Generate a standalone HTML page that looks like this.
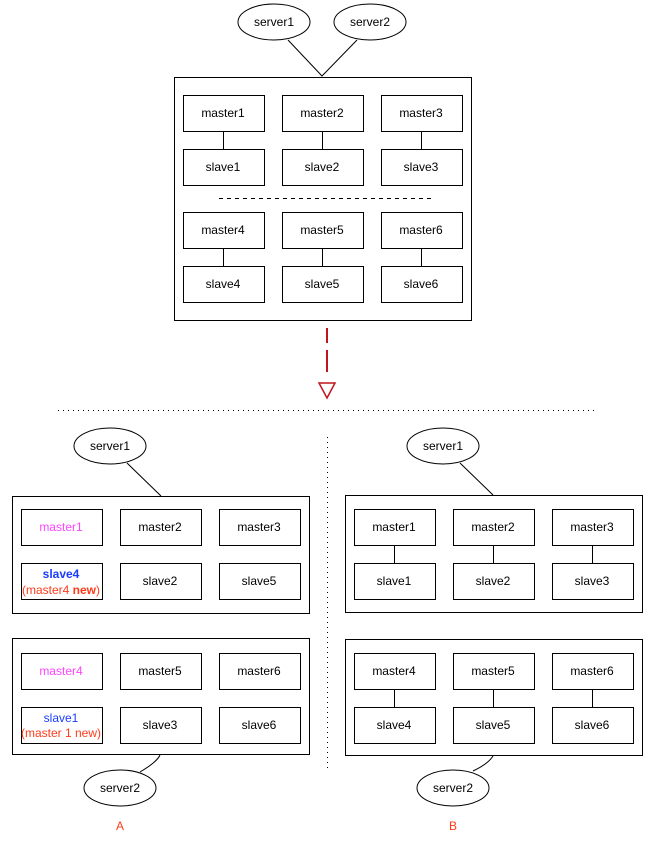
<!DOCTYPE html>
<html><head><style>html,body{margin:0;padding:0;background:#fff}svg{display:block}text{font-family:"Liberation Sans",sans-serif;font-size:12px}</style></head>
<body>
<svg width="665" height="846" viewBox="0 0 665 846" xmlns="http://www.w3.org/2000/svg">
<g fill="#fff" stroke="#000" stroke-width="1">
<ellipse cx="274" cy="22" rx="36" ry="18"/>
<ellipse cx="370" cy="22" rx="36" ry="18"/>
<path d="M288 40 L322 76 L357 40" fill="none"/>
<rect x="174.5" y="77.5" width="297" height="243"/>
<rect x="183.5" y="95.5" width="81" height="36"/><rect x="282.5" y="95.5" width="81" height="36"/><rect x="381.5" y="95.5" width="81" height="36"/>
<rect x="183.5" y="149.5" width="81" height="36"/><rect x="282.5" y="149.5" width="81" height="36"/><rect x="381.5" y="149.5" width="81" height="36"/>
<rect x="183.5" y="212.5" width="81" height="36"/><rect x="282.5" y="212.5" width="81" height="36"/><rect x="381.5" y="212.5" width="81" height="36"/>
<rect x="183.5" y="266.5" width="81" height="36"/><rect x="282.5" y="266.5" width="81" height="36"/><rect x="381.5" y="266.5" width="81" height="36"/>
<path d="M223.5 131.5V149.5M322.5 131.5V149.5M421.5 131.5V149.5M223.5 248.5V266.5M322.5 248.5V266.5M421.5 248.5V266.5" fill="none"/>
<path d="M219 198.5H431" fill="none" stroke-dasharray="4 4"/>
<path d="M327 328V343M327 350V372" stroke="#c0141e" stroke-width="2" fill="none"/>
<path d="M319 383H335L327 398Z" stroke="#c0141e" stroke-width="1.5"/>
<path d="M58 410.5H594" stroke-dasharray="1 4" fill="none"/>
<path d="M327.5 437V768" stroke-dasharray="1 4" fill="none"/>
<ellipse cx="110" cy="446" rx="36" ry="18"/>
<path d="M127 463L161 496" fill="none"/>
<rect x="12.5" y="496.5" width="297" height="117"/>
<rect x="21.5" y="509.5" width="81" height="36"/><rect x="120.5" y="509.5" width="81" height="36"/><rect x="219.5" y="509.5" width="81" height="36"/>
<rect x="21.5" y="563.5" width="81" height="36"/><rect x="120.5" y="563.5" width="81" height="36"/><rect x="219.5" y="563.5" width="81" height="36"/>
<rect x="12.5" y="638.5" width="297" height="116"/>
<rect x="21.5" y="653.5" width="81" height="36"/><rect x="120.5" y="653.5" width="81" height="36"/><rect x="219.5" y="653.5" width="81" height="36"/>
<rect x="21.5" y="707.5" width="81" height="36"/><rect x="120.5" y="707.5" width="81" height="36"/><rect x="219.5" y="707.5" width="81" height="36"/>
<path d="M160 755Q157 762 140 772" fill="none"/>
<ellipse cx="120" cy="788" rx="36" ry="18"/>
<ellipse cx="443" cy="446" rx="36" ry="18"/>
<path d="M460 463L493 495" fill="none"/>
<rect x="345.5" y="495.5" width="297" height="117"/>
<rect x="354.5" y="509.5" width="81" height="36"/><rect x="453.5" y="509.5" width="81" height="36"/><rect x="552.5" y="509.5" width="81" height="36"/>
<rect x="354.5" y="563.5" width="81" height="36"/><rect x="453.5" y="563.5" width="81" height="36"/><rect x="552.5" y="563.5" width="81" height="36"/>
<rect x="345.5" y="639.5" width="297" height="116"/>
<rect x="354.5" y="653.5" width="81" height="36"/><rect x="453.5" y="653.5" width="81" height="36"/><rect x="552.5" y="653.5" width="81" height="36"/>
<rect x="354.5" y="707.5" width="81" height="36"/><rect x="453.5" y="707.5" width="81" height="36"/><rect x="552.5" y="707.5" width="81" height="36"/>
<path d="M394.5 545.5V563.5M493.5 545.5V563.5M592.5 545.5V563.5M394.5 689.5V707.5M493.5 689.5V707.5M592.5 689.5V707.5" fill="none"/>
<path d="M493 756Q488 764 473 771" fill="none"/>
<ellipse cx="453" cy="788" rx="36" ry="18"/>
</g>
<g text-anchor="middle" fill="#000">
<text x="274" y="26">server1</text><text x="370" y="26">server2</text>
<text x="223" y="117">master1</text><text x="322" y="117">master2</text><text x="421" y="117">master3</text>
<text x="223" y="171">slave1</text><text x="322" y="171">slave2</text><text x="421" y="171">slave3</text>
<text x="223" y="234">master4</text><text x="322" y="234">master5</text><text x="421" y="234">master6</text>
<text x="223" y="288">slave4</text><text x="322" y="288">slave5</text><text x="421" y="288">slave6</text>
<text x="110" y="450">server1</text>
<text x="61" y="531" fill="#ff44ff">master1</text><text x="160" y="531">master2</text><text x="259" y="531">master3</text>
<text x="61" y="578" fill="#1a3cff" font-weight="bold">slave4</text>
<text x="61" y="594" fill="#ff3b1a">(master4 <tspan font-weight="bold">new</tspan>)</text>
<text x="160" y="585">slave2</text><text x="259" y="585">slave5</text>
<text x="61" y="675" fill="#ff44ff">master4</text><text x="160" y="675">master5</text><text x="259" y="675">master6</text>
<text x="61" y="722" fill="#1a3cff">slave1</text>
<text x="61" y="737" fill="#ff3b1a">(master 1 new)</text>
<text x="160" y="729">slave3</text><text x="259" y="729">slave6</text>
<text x="120" y="792">server2</text>
<text x="120" y="830" fill="#ff3b1a">A</text>
<text x="443" y="450">server1</text>
<text x="394" y="531">master1</text><text x="493" y="531">master2</text><text x="592" y="531">master3</text>
<text x="394" y="585">slave1</text><text x="493" y="585">slave2</text><text x="592" y="585">slave3</text>
<text x="394" y="675">master4</text><text x="493" y="675">master5</text><text x="592" y="675">master6</text>
<text x="394" y="729">slave4</text><text x="493" y="729">slave5</text><text x="592" y="729">slave6</text>
<text x="453" y="792">server2</text>
<text x="453" y="830" fill="#ff3b1a">B</text>
</g>
</svg>
</body></html>
